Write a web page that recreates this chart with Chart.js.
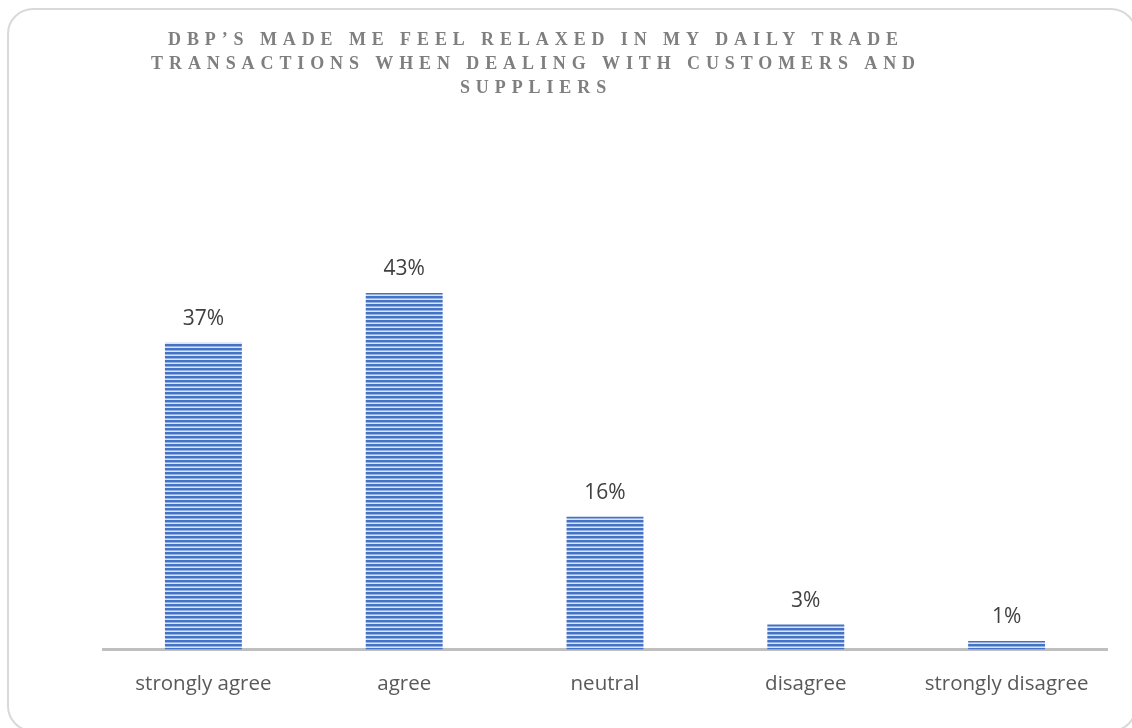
<!DOCTYPE html>
<html>
<head>
<meta charset="utf-8">
<script src="https://cdn.jsdelivr.net/npm/chart.js@4"></script>
<style>
  html, body { margin: 0; padding: 0; background: #fff; overflow: hidden; }
  #wrap { position: relative; width: 1132px; height: 728px; }
  #frame {
    position: absolute; left: 7px; top: 8px; width: 1130px; height: 724px;
    border: 2px solid #d9d9d9; border-radius: 26px; box-sizing: border-box;
  }
  canvas { position: absolute; left: 0; top: 0; }
</style>
</head>
<body>
<div id="wrap">
  <div id="frame"></div>
  <canvas id="chart" width="1132" height="728"></canvas>
</div>
<script>
const categories = ['strongly agree', 'agree', 'neutral', 'disagree', 'strongly disagree'];
const shares = [37, 43, 16, 3, 1];
const titleLines = [
    'DBP\u2019S MADE ME FEEL RELAXED IN MY DAILY TRADE',
    'TRANSACTIONS WHEN DEALING WITH CUSTOMERS AND',
    'SUPPLIERS'
];

// horizontal stripe fill for the bars
function stripeFill() {
    const tile = document.createElement('canvas');
    tile.width = 4;
    tile.height = 4;
    const t = tile.getContext('2d');
    t.fillStyle = '#4472c4';
    t.fillRect(0, 0, 4, 2);
    t.fillStyle = '#95b0e0';
    t.fillRect(0, 2, 4, 1);
    t.fillStyle = '#dbe4f5';
    t.fillRect(0, 3, 4, 1);
    return t.createPattern(tile, 'repeat');
}

const spacedTitle = {
    id: 'spacedTitle',
    afterDraw(chart) {
        const ctx = chart.ctx;
        ctx.save();
        ctx.font = 'bold 18px "Liberation Serif", serif';
        ctx.fillStyle = '#7f7f7f';
        ctx.textAlign = 'center';
        ctx.textBaseline = 'middle';
        ctx.letterSpacing = '5.9px';
        titleLines.forEach((line, i) => {
            ctx.fillText(line, 536, 40 + i * 24);
        });
        ctx.restore();
    }
};

const valueLabels = {
    id: 'valueLabels',
    afterDatasetsDraw(chart) {
        const ctx = chart.ctx;
        const meta = chart.getDatasetMeta(0);
        ctx.save();
        ctx.font = '21px "Open Sans", sans-serif';
        ctx.fillStyle = '#404040';
        ctx.textAlign = 'center';
        ctx.textBaseline = 'middle';
        meta.data.forEach((bar, i) => {
            ctx.fillText(shares[i] + '%', bar.x, bar.y - 24);
        });
        ctx.restore();
    }
};

new Chart(document.getElementById('chart').getContext('2d'), {
    type: 'bar',
    data: {
        labels: categories,
        datasets: [{
            data: shares,
            backgroundColor: stripeFill(),
            borderWidth: 0,
            categoryPercentage: 1,
            barPercentage: 0.383
        }]
    },
    options: {
        responsive: false,
        animation: false,
        layout: { padding: { left: 103, right: 25, top: 235, bottom: 10 } },
        plugins: {
            legend: { display: false },
            title: { display: false },
            tooltip: { enabled: false }
        },
        scales: {
            x: {
                grid: { display: false, drawTicks: false },
                border: { display: true, color: '#bfbfbf', width: 3 },
                ticks: {
                    color: '#595959',
                    padding: 22,
                    font: { family: '"Open Sans", sans-serif', size: 20.5 },
                    maxRotation: 0
                }
            },
            y: {
                display: false,
                min: 0,
                max: 50
            }
        }
    },
    plugins: [spacedTitle, valueLabels]
});
</script>
</body>
</html>
